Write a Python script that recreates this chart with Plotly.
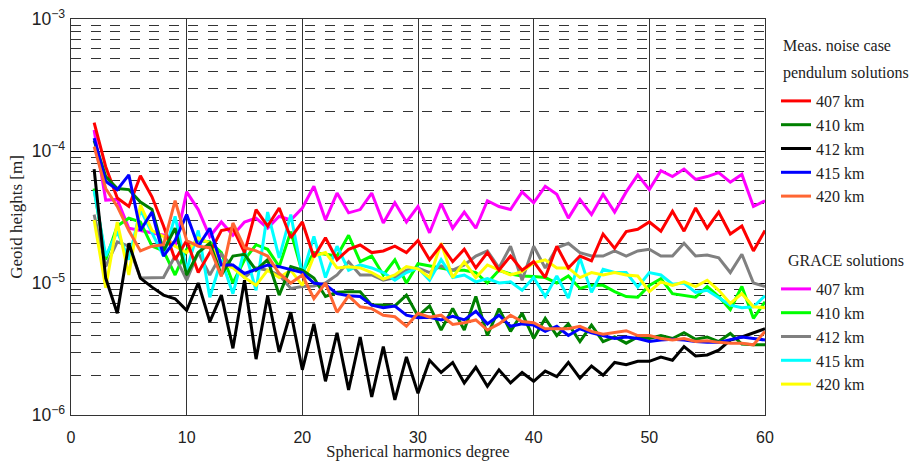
import plotly.graph_objects as go

degrees = list(range(2, 61))

# Pendulum solutions (measurement noise case)
pend_407 = [1.64e-4, 7.6e-5, 4.4e-5, 3.8e-5, 6.5e-5, 4.5e-5, 2.7e-5, 1.5e-5, 2.1e-5,
            1.2e-5, 1.7e-5, 2.5e-5, 2.6e-5, 1.7e-5, 3.6e-5, 2.7e-5, 3.7e-5, 2.2e-5, 2.9e-5,
            1.57e-5, 2.2e-5, 1.5e-5, 1.8e-5, 1.94e-5, 1.7e-5, 1.75e-5, 1.9e-5, 1.7e-5, 2.1e-5,
            1.5e-5, 1.94e-5, 1.45e-5, 1.8e-5, 1.3e-5, 1.7e-5, 1.25e-5, 1.6e-5, 1.25e-5, 1.45e-5,
            1.1e-5, 1.9e-5, 1.3e-5, 1.6e-5, 1.47e-5, 2.35e-5, 1.83e-5, 2.45e-5, 2.55e-5, 2.9e-5,
            2.47e-5, 3.5e-5, 2.47e-5, 3.7e-5, 2.6e-5, 3.45e-5, 2.35e-5, 2.7e-5, 1.75e-5, 2.5e-5]
pend_410 = [1.2e-4, 6.4e-5, 5.2e-5, 5.1e-5, 4.1e-5, 3.6e-5, 1.75e-5, 2.6e-5, 1.15e-5,
            1.7e-5, 2.0e-5, 1.15e-5, 1.6e-5, 1.65e-5, 1.25e-5, 1.5e-5, 8.1e-6, 1.33e-5, 1.25e-5,
            1.09e-5, 7.9e-6, 8.5e-6, 8.6e-6, 8.6e-6, 6.8e-6, 6.8e-6, 6.7e-6, 8.1e-6, 5.6e-6,
            6.7e-6, 4.4e-6, 6.4e-6, 4.4e-6, 7.9e-6, 4.0e-6, 6.4e-6, 4.3e-6, 5.9e-6, 3.8e-6,
            5.4e-6, 4.0e-6, 4.9e-6, 3.6e-6, 4.8e-6, 3.6e-6, 3.9e-6, 3.5e-6, 3.9e-6, 3.8e-6,
            4.0e-6, 3.8e-6, 4.2e-6, 3.75e-6, 3.9e-6, 3.6e-6, 4.15e-6, 3.45e-6, 3.4e-6, 3.4e-6]
pend_412 = [7.3e-5, 1.09e-5, 5.9e-6, 2.0e-5, 1.09e-5, 9.3e-6, 8.1e-6, 7.6e-6, 6.2e-6,
            1.0e-5, 5.1e-6, 8.1e-6, 3.2e-6, 1.05e-5, 2.65e-6, 8.0e-6, 3.0e-6, 6.0e-6, 2.2e-6,
            4.9e-6, 1.8e-6, 4.2e-6, 1.55e-6, 3.9e-6, 1.37e-6, 3.3e-6, 1.3e-6, 2.75e-6, 1.46e-6,
            2.6e-6, 2.1e-6, 2.5e-6, 1.75e-6, 2.3e-6, 1.65e-6, 2.2e-6, 1.75e-6, 2.1e-6, 1.8e-6,
            2.15e-6, 1.95e-6, 2.5e-6, 1.9e-6, 2.35e-6, 2.0e-6, 2.5e-6, 2.4e-6, 2.55e-6, 2.55e-6,
            2.75e-6, 2.6e-6, 3.3e-6, 2.8e-6, 2.85e-6, 3.1e-6, 3.7e-6, 3.9e-6, 4.2e-6, 4.5e-6]
pend_415 = [1.25e-4, 5.9e-5, 5.1e-5, 6.6e-5, 2.5e-5, 3.45e-5, 1.6e-5, 2.1e-5, 3.3e-5,
            1.9e-5, 2.6e-5, 1.37e-5, 1.37e-5, 1.18e-5, 1.27e-5, 1.37e-5, 1.33e-5, 1.27e-5, 1.2e-5,
            1.0e-5, 9.7e-6, 8.3e-6, 8.0e-6, 7.9e-6, 6.8e-6, 6.5e-6, 6.7e-6, 5.7e-6, 5.45e-6,
            5.5e-6, 5.25e-6, 5.6e-6, 5.25e-6, 6.1e-6, 4.9e-6, 5.7e-6, 4.7e-6, 4.9e-6, 4.8e-6,
            4.3e-6, 4.7e-6, 4.0e-6, 4.5e-6, 4.2e-6, 4.0e-6, 3.8e-6, 3.9e-6, 3.8e-6, 3.6e-6,
            3.7e-6, 3.75e-6, 3.7e-6, 3.6e-6, 3.55e-6, 3.55e-6, 3.7e-6, 3.9e-6, 3.8e-6, 3.7e-6]
pend_420 = [1.08e-4, 5.2e-5, 3.8e-5, 2.5e-5, 1.75e-5, 1.9e-5, 1.95e-5, 4.2e-5, 2.1e-5,
            1.9e-5, 1.85e-5, 1.12e-5, 2.85e-5, 1.85e-5, 1.75e-5, 1.6e-5, 1.18e-5, 1.0e-5, 1.15e-5,
            7.6e-6, 1.0e-5, 6.0e-6, 8.0e-6, 6.6e-6, 6.4e-6, 5.7e-6, 5.55e-6, 4.7e-6, 5.9e-6,
            5.5e-6, 5.7e-6, 4.85e-6, 5.0e-6, 5.25e-6, 4.4e-6, 4.9e-6, 5.7e-6, 5.1e-6, 5.0e-6,
            4.5e-6, 4.5e-6, 4.5e-6, 4.7e-6, 4.3e-6, 4.1e-6, 4.2e-6, 4.35e-6, 4.0e-6, 4.0e-6,
            3.8e-6, 3.7e-6, 3.8e-6, 3.6e-6, 3.65e-6, 3.55e-6, 3.5e-6, 3.5e-6, 3.4e-6, 4.3e-6]

# GRACE solutions
grace_407 = [1.44e-4, 4.25e-5, 4.3e-5, 2.6e-5, 2.5e-5, 2.4e-5, 2.3e-5, 1.9e-5, 4.9e-5,
             3.6e-5, 2.25e-5, 2.9e-5, 2.3e-5, 2.9e-5, 3.1e-5, 2.6e-5, 3.2e-5, 3.0e-5, 3.7e-5,
             5.4e-5, 3.0e-5, 4.8e-5, 3.4e-5, 3.6e-5, 4.8e-5, 2.85e-5, 4.05e-5, 2.9e-5, 3.8e-5,
             2.4e-5, 4.0e-5, 2.6e-5, 3.45e-5, 2.6e-5, 4.2e-5, 3.8e-5, 3.6e-5, 4.9e-5, 4.05e-5,
             5.4e-5, 4.7e-5, 3.1e-5, 4.3e-5, 3.3e-5, 4.7e-5, 3.45e-5, 4.9e-5, 6.6e-5, 5.1e-5,
             7.1e-5, 6.4e-5, 7.3e-5, 6.1e-5, 6.4e-5, 6.85e-5, 5.8e-5, 6.65e-5, 3.8e-5, 4.2e-5]
grace_410 = [5.2e-5, 1.5e-5, 2.7e-5, 3.1e-5, 2.9e-5, 1.9e-5, 1.75e-5, 1.15e-5, 1.8e-5,
             2.1e-5, 2.05e-5, 1.7e-5, 1.0e-5, 1.5e-5, 1.95e-5, 1.8e-5, 1.33e-5, 2.45e-5, 1.2e-5,
             1.7e-5, 1.65e-5, 1.6e-5, 2.3e-5, 1.45e-5, 1.6e-5, 1.15e-5, 1.5e-5, 1.0e-5, 1.4e-5,
             1.35e-5, 1.3e-5, 1.25e-5, 1.25e-5, 1.2e-5, 1.0e-5, 1.25e-5, 1.17e-5, 1.13e-5, 1.12e-5,
             1.1e-5, 1.0e-5, 1.13e-5, 9.1e-6, 9.6e-6, 9.6e-6, 8.6e-6, 7.9e-6, 7.8e-6, 9.6e-6,
             1.08e-5, 8.3e-6, 8.0e-6, 7.8e-6, 9.4e-6, 7.9e-6, 6.3e-6, 9.4e-6, 5.4e-6, 7.2e-6]
grace_412 = [3.3e-5, 1.33e-5, 2.05e-5, 1.9e-5, 1.09e-5, 1.09e-5, 1.1e-5, 1.6e-5, 1.05e-5,
             1.7e-5, 1.15e-5, 1.65e-5, 1.33e-5, 1.1e-5, 1.3e-5, 1.25e-5, 1.15e-5, 9.1e-6, 9.4e-6,
             9.5e-6, 1.0e-5, 1.15e-5, 1.45e-5, 1.15e-5, 1.15e-5, 1.05e-5, 1.1e-5, 1.25e-5, 1.3e-5,
             1.2e-5, 1.35e-5, 1.25e-5, 1.37e-5, 1.6e-5, 1.75e-5, 1.3e-5, 1.9e-5, 1.05e-5, 1.9e-5,
             1.3e-5, 1.85e-5, 2.0e-5, 1.7e-5, 1.6e-5, 1.6e-5, 1.75e-5, 1.6e-5, 1.75e-5, 1.8e-5,
             1.6e-5, 1.6e-5, 2.0e-5, 1.6e-5, 1.63e-5, 1.55e-5, 1.2e-5, 1.65e-5, 1.0e-5, 9.4e-6]
grace_415 = [5.0e-5, 1.6e-5, 2.45e-5, 1.5e-5, 3.6e-5, 2.4e-5, 1.6e-5, 3.2e-5, 1.25e-5,
             2.5e-5, 7.8e-6, 1.5e-5, 8.3e-6, 1.8e-5, 8.8e-6, 3.45e-5, 1.55e-5, 3.3e-5, 1.15e-5,
             2.25e-5, 1.1e-5, 1.9e-5, 1.25e-5, 1.37e-5, 1.3e-5, 1.2e-5, 1.05e-5, 1.2e-5, 1.3e-5,
             1.05e-5, 1.5e-5, 1.1e-5, 1.15e-5, 1.02e-5, 1.08e-5, 1.0e-5, 1.02e-5, 8.8e-6, 1.1e-5,
             7.9e-6, 1.13e-5, 7.7e-6, 1.55e-5, 8.5e-6, 1.27e-5, 1.2e-5, 1.2e-5, 9.3e-6, 1.2e-5,
             1.15e-5, 9.8e-6, 1.0e-5, 8.5e-6, 8.8e-6, 7.7e-6, 6.8e-6, 6.5e-6, 6.6e-6, 8.0e-6]
grace_420 = [3.0e-5, 9.2e-6, 2.9e-5, 1.15e-5, 3.9e-5, 2.5e-5, 2.25e-5, 1.9e-5, 1.7e-5,
             2.2e-5, 2.0e-5, 1.4e-5, 1.3e-5, 1.1e-5, 9.6e-6, 1.25e-5, 1.1e-5, 1.25e-5, 9.6e-6,
             1.6e-5, 1.7e-5, 1.3e-5, 1.33e-5, 1.3e-5, 1.2e-5, 1.07e-5, 1.15e-5, 1.33e-5, 1.28e-5,
             1.1e-5, 2.0e-5, 1.1e-5, 1.45e-5, 1.1e-5, 1.37e-5, 1.25e-5, 1.15e-5, 1.22e-5, 1.42e-5,
             1.5e-5, 1.3e-5, 1.3e-5, 1.1e-5, 1.2e-5, 1.15e-5, 1.2e-5, 1.15e-5, 1.13e-5, 8.6e-6,
             1.02e-5, 9.6e-6, 1.02e-5, 9.4e-6, 1.05e-5, 8.8e-6, 7.0e-6, 8.3e-6, 6.6e-6, 6.5e-6]

labels = ["407 km", "410 km", "412 km", "415 km", "420 km"]
pend_series = [pend_407, pend_410, pend_412, pend_415, pend_420]
grace_series = [grace_407, grace_410, grace_412, grace_415, grace_420]
pend_colors = ["#FF0000", "#008000", "#000000", "#0000FF", "#FF6633"]
grace_colors = ["#FF00FF", "#00FF00", "#808080", "#00FFFF", "#FFFF00"]
pend_title = ["Meas. noise case", "pendulum solutions"]
grace_title = "GRACE solutions"

SERIF = "Liberation Serif, Times New Roman, serif"
SANS = "Liberation Sans, Arial, sans-serif"
TXT = "#222"

fig = go.Figure()
for lab, vals, col in zip(labels, grace_series, grace_colors):
    fig.add_trace(go.Scatter(x=degrees, y=vals, mode="lines", name=lab,
                             line=dict(color=col, width=3), legend="legend2"))
for lab, vals, col in zip(labels, pend_series, pend_colors):
    fig.add_trace(go.Scatter(x=degrees, y=vals, mode="lines", name=lab,
                             line=dict(color=col, width=3), legend="legend"))

W, H = 913, 461


def cy(py):
    return 1 - py / H


legend_common = dict(
    xref="container", yref="container", xanchor="left", yanchor="top",
    font=dict(family=SERIF, size=16, color=TXT),
    bgcolor="rgba(0,0,0,0)", traceorder="normal", itemwidth=30,
)


def title_ann(text, px, py):
    return dict(text=text, xref="paper", yref="paper",
                x=(px - 71) / 694, y=1 - (py - 19) / 396,
                xanchor="left", yanchor="middle", showarrow=False,
                font=dict(family=SERIF, size=16, color=TXT))


fig.update_layout(
    width=W, height=H,
    margin=dict(l=71, r=148, t=19, b=46, autoexpand=False),
    paper_bgcolor="white", plot_bgcolor="white",
    font=dict(family=SERIF, size=16, color=TXT),
    legend=dict(x=776 / W, y=cy(84), **legend_common),
    legend2=dict(x=776 / W, y=cy(272), **legend_common),
    annotations=[
        title_ann(pend_title[0], 781, 46),
        title_ann(pend_title[1], 781, 73),
        title_ann(grace_title, 786, 260),
    ],
    xaxis=dict(
        range=[0, 60], dtick=10, tick0=0, automargin=False,
        showgrid=True, gridcolor="#333", gridwidth=1,
        zeroline=False, showline=True, linecolor="#333", linewidth=1, mirror=True,
        ticks="", ticklabelstandoff=8, tickfont=dict(family=SANS, size=16, color=TXT),
        title=dict(text="Spherical harmonics degree", font=dict(family=SERIF, size=16.5, color=TXT), standoff=19),
    ),
    yaxis=dict(
        type="log", range=[-6, -3], dtick=1, automargin=False,
        exponentformat="power", showexponent="all",
        showgrid=True, gridcolor="black", gridwidth=1,
        minor=dict(dtick="D1", showgrid=True, gridcolor="#333", griddash="10px,9.5px", gridwidth=1, ticks=""),
        zeroline=False, showline=True, linecolor="#333", linewidth=1, mirror=True,
        ticks="", ticklabelstandoff=2, tickfont=dict(family=SANS, size=14, color=TXT),
        title=dict(text="Geoid heights [m]", font=dict(family=SERIF, size=17, color=TXT), standoff=4),
    ),
)

fig.write_html("out.html", config={"displayModeBar": False},
               post_script="document.body.style.margin='0';document.body.style.overflow='hidden';")
